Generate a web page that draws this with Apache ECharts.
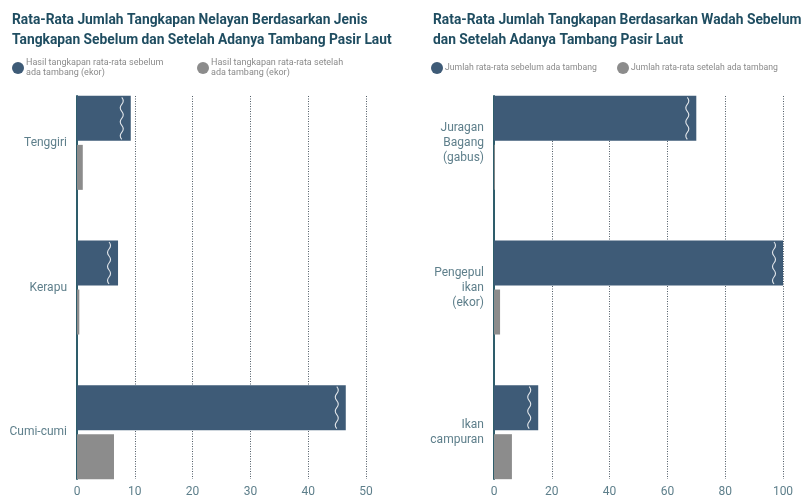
<!DOCTYPE html>
<html>
<head>
<meta charset="utf-8">
<script src="https://cdn.jsdelivr.net/npm/echarts@6/dist/echarts.min.js"></script>
<style>html,body{margin:0;padding:0;background:#fff}#c{width:801px;height:499px}</style>
</head>
<body>
<div id="c"></div>
<script>
var catsLeft = ['Tenggiri', 'Kerapu', 'Cumi-cumi'];
var leftBefore = [9.3, 7.1, 46.5];
var leftAfter = [1.0, 0.4, 6.4];
var catsRight = ['Juragan\nBagang\n(gabus)', 'Pengepul\nikan\n(ekor)', 'Ikan\ncampuran'];
var rightBefore = [70, 100, 15.3];
var rightAfter = [0.3, 2.1, 6.2];
var leftTicks = [0, 50, 10];
var rightTicks = [0, 100, 20];

var nameLB = 'Hasil tangkapan rata-rata sebelum\nada tambang (ekor)';
var nameLA = 'Hasil tangkapan rata-rata setelah\nada tambang (ekor)';
var nameRB = 'Jumlah rata-rata sebelum ada tambang';
var nameRA = 'Jumlah rata-rata setelah ada tambang';

var BLUE = '#3e5b77', GREY = '#8c8c8c', TEAL = '#2e5d6b', LBL = '#5e7f8b';
var FONT = 'Roboto';

function wave(params, api) {
  var p = api.coord([api.value(0), api.value(1)]);
  var x = p[0] - 9;
  var yc = p[1] - 24.5;
  var y0 = yc - 21;
  var d = 'M' + x + ',' + y0;
  var seg = 7;
  for (var i = 0; i < 6; i++) {
    var dx = (i % 2 === 0) ? 3 : -3;
    d += ' Q' + (x + dx) + ',' + (y0 + seg * i + seg / 2) + ' ' + x + ',' + (y0 + seg * (i + 1));
  }
  return { type: 'path', shape: { pathData: d }, style: { fill: 'none', stroke: 'rgba(255,255,255,0.85)', lineWidth: 1.1 } };
}

function waveData(arr) { return arr.map(function (v, i) { return [v, i]; }); }

var gridA = { top: 96, height: 383, width: 289, outerBoundsMode: 'none' };
var gridB = { top: 70.5, height: 434, width: 289, outerBoundsMode: 'none' };

function valAxis(grid, t, show) {
  return {
    type: 'value', gridIndex: grid, min: t[0], max: t[1], interval: t[2],
    axisLine: { show: false }, axisTick: { show: false },
    axisLabel: { show: show, color: LBL, fontSize: 12, fontFamily: FONT, margin: 7 },
    splitLine: { show: show, lineStyle: { type: [1, 1.5], color: '#4f5b66', width: 1 } }
  };
}
function lineAxis(grid) {
  return { type: 'value', gridIndex: grid, axisLine: { show: true, lineStyle: { color: TEAL, width: 2 } },
    axisTick: { show: false }, axisLabel: { show: false }, splitLine: { show: false } };
}
function catAxis(grid, cats) {
  return { type: 'category', gridIndex: grid, data: cats, inverse: true,
    axisLine: { show: false }, axisTick: { show: false },
    axisLabel: { color: LBL, fontSize: 12, fontFamily: FONT, margin: 10, lineHeight: 15, align: 'right' },
    splitLine: { show: false } };
}
function legend(name, left, top, size) {
  return { data: [name], left: left, top: top, icon: 'circle', itemWidth: 12, itemHeight: 12, itemGap: 0,
    textStyle: { color: '#8a8a8a', fontSize: size, fontFamily: FONT, lineHeight: 10, padding: [0, 0, 0, -3] }, selectedMode: false };
}

var option = {
  animation: false,
  title: [
    { text: 'Rata-Rata Jumlah Tangkapan Nelayan Berdasarkan Jenis\nTangkapan Sebelum dan Setelah Adanya Tambang Pasir Laut',
      left: 7, top: 6, textStyle: { color: '#1f4d61', fontSize: 13.8, fontWeight: 'bold', fontFamily: FONT, lineHeight: 20 } },
    { text: 'Rata-Rata Jumlah Tangkapan Berdasarkan Wadah Sebelum\ndan Setelah Adanya Tambang Pasir Laut',
      left: 428, top: 6, textStyle: { color: '#1f4d61', fontSize: 13.8, fontWeight: 'bold', fontFamily: FONT, lineHeight: 20 } }
  ],
  legend: [legend(nameLB, 7, 53, 9), legend(nameLA, 192, 53, 9), legend(nameRB, 426, 57, 8.7), legend(nameRA, 612, 57, 8.7)],
  grid: [
    Object.assign({ left: 77 }, gridA), Object.assign({ left: 77 }, gridB),
    Object.assign({ left: 494 }, gridA), Object.assign({ left: 494 }, gridB)
  ],
  xAxis: [valAxis(0, leftTicks, true), valAxis(1, leftTicks, false), valAxis(2, rightTicks, true), valAxis(3, rightTicks, false)],
  yAxis: [lineAxis(0), catAxis(1, catsLeft), lineAxis(2), catAxis(3, catsRight)],
  series: [
    { type: 'bar', name: nameLB, data: leftBefore, xAxisIndex: 1, yAxisIndex: 1, barWidth: 45, barGap: '9%', itemStyle: { color: BLUE } },
    { type: 'bar', name: nameLA, data: leftAfter, xAxisIndex: 1, yAxisIndex: 1, barWidth: 45, barGap: '9%', itemStyle: { color: GREY } },
    { type: 'custom', data: waveData(leftBefore), xAxisIndex: 1, yAxisIndex: 1, renderItem: wave, z: 5, silent: true },
    { type: 'bar', name: nameRB, data: rightBefore, xAxisIndex: 3, yAxisIndex: 3, barWidth: 45, barGap: '9%', itemStyle: { color: BLUE } },
    { type: 'bar', name: nameRA, data: rightAfter, xAxisIndex: 3, yAxisIndex: 3, barWidth: 45, barGap: '9%', itemStyle: { color: GREY } },
    { type: 'custom', data: waveData(rightBefore), xAxisIndex: 3, yAxisIndex: 3, renderItem: wave, z: 5, silent: true }
  ]
};
var chart = echarts.init(document.getElementById('c'));
chart.setOption(option);
</script>
</body>
</html>
